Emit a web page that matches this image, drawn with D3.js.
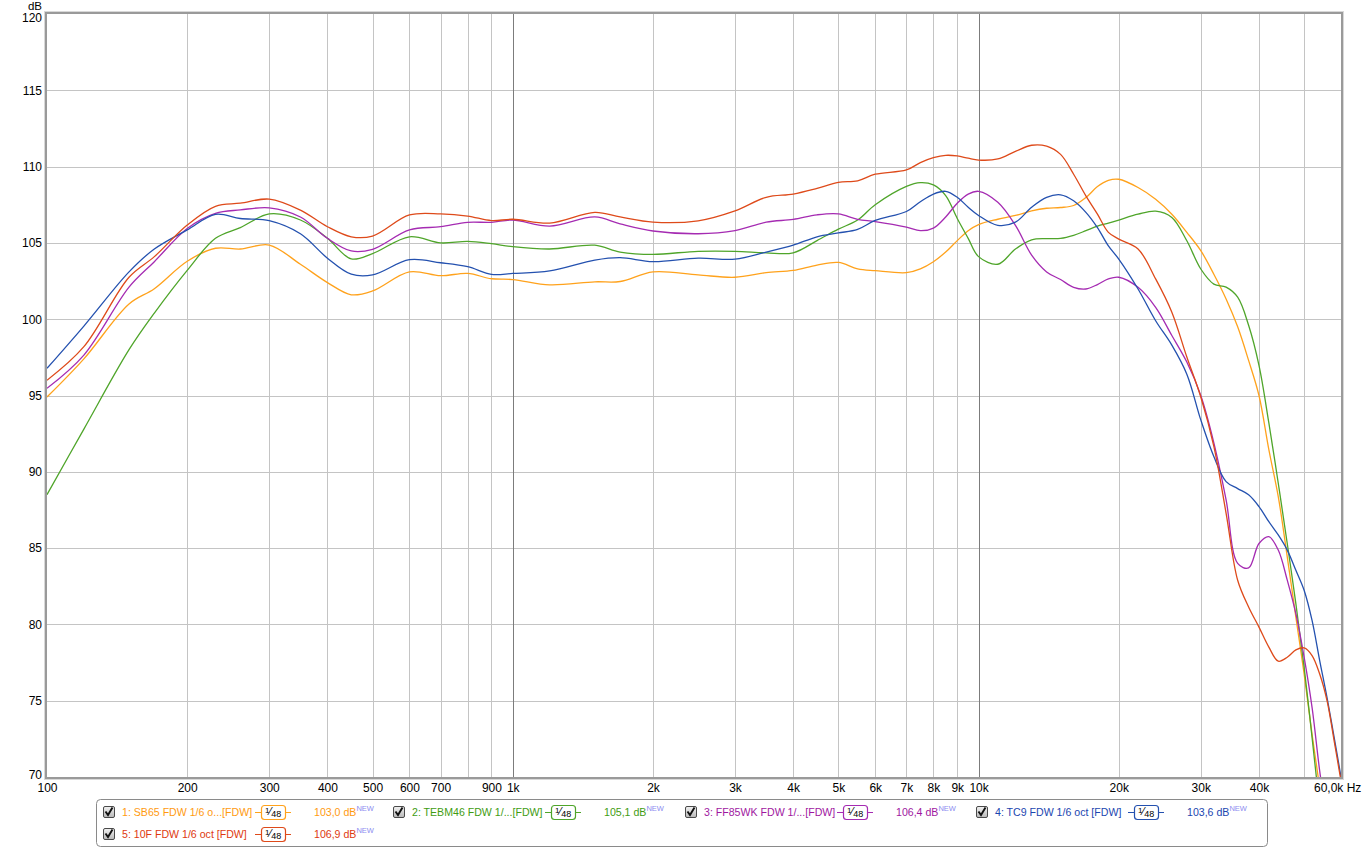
<!DOCTYPE html>
<html>
<head>
<meta charset="utf-8">
<script src="https://cdn.jsdelivr.net/npm/d3@7"></script>
<style>
  html, body { margin: 0; padding: 0; background: #fff; }
  svg { display: block; font-family: "Liberation Sans", Arial, sans-serif; }
</style>
</head>
<body>
<svg id="chart" width="1365" height="849"></svg>
<script>
// ---- Data (frequency in Hz, level in dB) ----
const freqs = [100,120,150,170,200,230,260,300,350,400,450,500,600,700,800,900,1000,1200,1500,1700,2000,2500,3000,3500,4000,4500,5000,5500,6000,7000,7500,8000,8500,9000,9500,10000,11000,12000,13000,14000,15000,16000,17000,18000,19000,20000,22000,24000,26000,28000,30000,32000,34000,36000,38000,40000,42000,44000,46000,48000,50000,52000,54000,56000,58000,60000];

const sb65 = [94.9,97.4,101.0,102.0,103.8,104.65,104.6,104.86,103.6,102.4,101.6,101.85,103.1,102.85,103.0,102.65,102.6,102.25,102.45,102.47,103.1,102.9,102.75,103.05,103.2,103.55,103.72,103.3,103.18,103.05,103.3,103.77,104.4,105.15,105.8,106.2,106.55,106.8,107.1,107.27,107.32,107.45,107.97,108.69,109.1,109.17,108.63,107.86,106.88,105.69,104.49,102.95,101.33,99.5,97.3,95.0,91.45,88.38,84.43,80.48,76.75,72.8,69.3,66,63,60];

const tebm46 = [88.5,92.8,98.0,100.4,103.2,105.3,106.0,106.9,106.5,105.3,103.95,104.3,105.4,105.0,105.1,104.95,104.75,104.6,104.85,104.4,104.25,104.45,104.45,104.35,104.35,105.15,105.9,106.5,107.5,108.7,108.95,108.8,108.1,106.6,105.3,104.1,103.6,104.6,105.2,105.28,105.3,105.5,105.8,106.1,106.3,106.5,106.88,107.08,106.67,105.14,103.29,102.3,102.1,101.44,99.6,96.97,93.2,89.25,85.3,81.36,77.2,72.6,68,64,60,56];

const ff85wk = [95.47,97.65,102.1,103.77,105.95,106.94,107.16,107.3,106.7,105.3,104.47,104.58,105.85,106.06,106.35,106.35,106.5,106.1,106.7,106.25,105.78,105.6,105.8,106.36,106.54,106.84,106.9,106.54,106.4,106.04,105.8,105.97,106.7,107.6,108.2,108.38,107.66,106.15,104.2,103.1,102.6,102.09,101.98,102.27,102.64,102.75,102.09,100.78,98.93,97.19,95.0,91.9,88.16,84.0,83.7,85.3,85.75,84.87,82.9,80.7,77.85,74.56,70.4,67,63,59];

const tc9 = [96.78,99.55,103.1,104.6,105.85,106.87,106.6,106.46,105.6,104.0,102.95,102.9,103.9,103.7,103.44,102.94,103.0,103.16,103.87,104.03,103.77,104.0,103.94,104.4,104.85,105.4,105.65,105.89,106.47,107.06,107.7,108.2,108.38,107.99,107.34,106.8,106.15,106.36,107.34,107.99,108.15,107.76,107.0,106.0,104.8,103.94,101.98,99.9,98.3,96.4,93.4,91.0,89.36,88.9,88.49,87.72,86.73,85.86,84.87,83.55,82.24,80.26,77.63,75.2,72.6,70.0];

const f10 = [96.0,98.2,102.75,104.1,106.17,107.4,107.6,107.87,107.15,106.06,105.4,105.45,106.83,106.9,106.76,106.46,106.55,106.3,107.0,106.7,106.36,106.45,107.1,107.99,108.2,108.57,108.96,109.07,109.5,109.78,110.26,110.58,110.74,110.7,110.55,110.43,110.5,111.0,111.4,111.34,110.8,109.5,108.08,106.88,105.69,105.25,104.6,102.64,100.46,97.52,94.9,91.67,87.28,82.89,81.14,79.82,78.51,77.59,77.85,78.33,78.46,77.96,76.75,75.0,72.37,69.74];

const seriesNames = ["1: SB65 FDW 1/6 o...[FDW]", "2: TEBM46 FDW 1/...[FDW]", "3: FF85WK FDW 1/...[FDW]", "4: TC9 FDW 1/6 oct [FDW]", "5: 10F FDW 1/6 oct [FDW]"];
const seriesLevels = ["103,0 dB", "105,1 dB", "106,4 dB", "103,6 dB", "106,9 dB"];
const seriesValues = [sb65, tebm46, ff85wk, tc9, f10];

const gridFreqs = [200,300,400,500,600,700,800,900,1000,2000,3000,4000,5000,6000,7000,8000,9000,10000,20000,30000,40000,50000];
const xLabelFreqs = [100,200,300,400,500,600,700,900,1000,2000,3000,4000,5000,6000,7000,8000,9000,10000,20000,30000,40000];
const yTicks = [70,75,80,85,90,95,100,105,110,115,120];

// ---- Styling ----
const lineColors = ["#FFA21C", "#4FA52A", "#A52BB2", "#2451AF", "#DE4A1A"];
const textColors = ["#FF9A10", "#3F9C12", "#A0179F", "#1B46B0", "#DE3A10"];

const svg = d3.select("#chart");
const L = 47, R = 1341, T = 14, B = 777;
const x = d3.scaleLog().domain([100, 60000]).range([L, R]);
const y = d3.scaleLinear().domain([70, 120]).range([B, T]);

svg.append("rect").attr("width", 1365).attr("height", 849).attr("fill", "#fff");

// grid
const grid = svg.append("g");
grid.selectAll("line.h").data(yTicks.slice(1, -1)).join("line")
  .attr("x1", L).attr("x2", R)
  .attr("y1", d => Math.round(y(d)) + 0.5).attr("y2", d => Math.round(y(d)) + 0.5)
  .attr("stroke", "#c4c4c4").attr("stroke-width", 1);
grid.selectAll("line.v").data(gridFreqs).join("line")
  .attr("x1", d => Math.round(x(d)) + 0.5).attr("x2", d => Math.round(x(d)) + 0.5)
  .attr("y1", T).attr("y2", B)
  .attr("stroke", d => (d === 1000 || d === 10000) ? "#7c7c7c" : "#c4c4c4")
  .attr("stroke-width", 1);

// curves
const defs = svg.append("defs");
defs.append("clipPath").attr("id", "clip")
  .append("rect").attr("x", L).attr("y", T).attr("width", R - L).attr("height", B - T);

const line = d3.line()
  .x(d => x(d[0]))
  .y(d => y(d[1]))
  .curve(d3.curveCatmullRom.alpha(0.5));

const curves = svg.append("g").attr("clip-path", "url(#clip)");
seriesValues.forEach((vals, i) => {
  curves.append("path")
    .datum(freqs.map((f, k) => [f, vals[k]]))
    .attr("d", line)
    .attr("fill", "none")
    .attr("stroke", lineColors[i])
    .attr("stroke-width", 1.3)
    .attr("stroke-linejoin", "round");
});

// frame with shading
svg.append("rect").attr("x", L - 2.5).attr("y", T - 2.5).attr("width", R - L + 5).attr("height", B - T + 5)
  .attr("fill", "none").attr("stroke", "#d8d8d8").attr("stroke-width", 1);
svg.append("rect").attr("x", L - 1).attr("y", T - 1).attr("width", R - L + 2).attr("height", B - T + 2)
  .attr("fill", "none").attr("stroke", "#9a9a9a").attr("stroke-width", 2);

// y axis labels
const yAxis = d3.axisLeft(y).tickValues(yTicks).tickSize(0).tickPadding(0).tickFormat(d3.format("d"));
const yg = svg.append("g").attr("transform", `translate(${L - 5},0)`).call(yAxis);
yg.select(".domain").remove();
yg.selectAll("text").attr("font-size", 12).attr("fill", "#000")
  .attr("font-family", "'Liberation Sans', Arial, sans-serif")
  .attr("dy", d => d === 120 ? "0.62em" : (d === 70 ? "0.1em" : "0.32em"));
svg.append("text").attr("x", L - 5).attr("y", 10).attr("text-anchor", "end")
  .attr("font-size", 11.5).attr("fill", "#000").text("dB");

// x axis labels
const fmtX = d => d >= 1000 ? (d / 1000) + "k" : String(d);
const xAxis = d3.axisBottom(x).tickValues(xLabelFreqs).tickSize(0).tickPadding(0).tickFormat(fmtX);
const xg = svg.append("g").attr("transform", `translate(0,${B + 6})`).call(xAxis);
xg.select(".domain").remove();
xg.selectAll("text").attr("font-size", 12).attr("fill", "#000")
  .attr("font-family", "'Liberation Sans', Arial, sans-serif").attr("dy", "0.71em");
svg.append("text").attr("x", 1314).attr("y", B + 6).attr("dy", "0.71em")
  .attr("font-size", 12).attr("fill", "#000").text("60,0k Hz");

// legend
const lg = svg.append("g");
lg.append("rect").attr("x", 96.5).attr("y", 799.5).attr("width", 1171).attr("height", 47)
  .attr("rx", 4).attr("fill", "#fff").attr("stroke", "#8a8a8a").attr("stroke-width", 1);

const grad = defs.append("linearGradient").attr("id", "cb").attr("x1", 0).attr("y1", 0).attr("x2", 0).attr("y2", 1);
grad.append("stop").attr("offset", "0%").attr("stop-color", "#f2f2f2");
grad.append("stop").attr("offset", "100%").attr("stop-color", "#b8b8b8");

const legendPos = [[103, 806], [393, 806], [685, 806], [976, 806], [103, 828]];
legendPos.forEach((p, i) => {
  const g = lg.append("g").attr("transform", `translate(${p[0]},${p[1]})`);
  // checkbox
  g.append("rect").attr("x", 0.5).attr("y", 0.5).attr("width", 11).attr("height", 11).attr("rx", 1.5)
    .attr("fill", "url(#cb)").attr("stroke", "#4a4a4a");
  g.append("path").attr("d", "M2.5,5.5 L5,9 L9.5,1.5").attr("fill", "none").attr("stroke", "#111").attr("stroke-width", 1.9);
  // name
  g.append("text").attr("x", 19).attr("y", 10).attr("font-size", 10.6).attr("fill", textColors[i]).text(seriesNames[i]);
  // 1/48 smoothing box
  const bx = 158;
  g.append("line").attr("x1", bx - 6).attr("x2", bx + 30).attr("y1", 6.5).attr("y2", 6.5).attr("stroke", lineColors[i]).attr("stroke-width", 1);
  g.append("rect").attr("x", bx + 0.5).attr("y", -0.5).attr("width", 24).attr("height", 14).attr("rx", 3)
    .attr("fill", "#fff").attr("stroke", lineColors[i]).attr("stroke-width", 1.2);
  const t = g.append("text").attr("x", bx + 4).attr("y", 9).attr("font-size", 10).attr("fill", "#000");
  t.append("tspan").attr("font-size", 8).attr("dy", -2).text("1");
  t.append("tspan").attr("font-size", 11).attr("dy", 2).text("⁄");
  t.append("tspan").attr("font-size", 9).attr("dy", 2).text("48");
  // level
  const vt = g.append("text").attr("x", bx + 53).attr("y", 10).attr("font-size", 10.6).attr("fill", textColors[i]).text(seriesLevels[i]);
  vt.append("tspan").attr("font-size", 7.5).attr("fill", "#8c8cf0").attr("dy", -5).text("NEW");
});
</script>
</body>
</html>
